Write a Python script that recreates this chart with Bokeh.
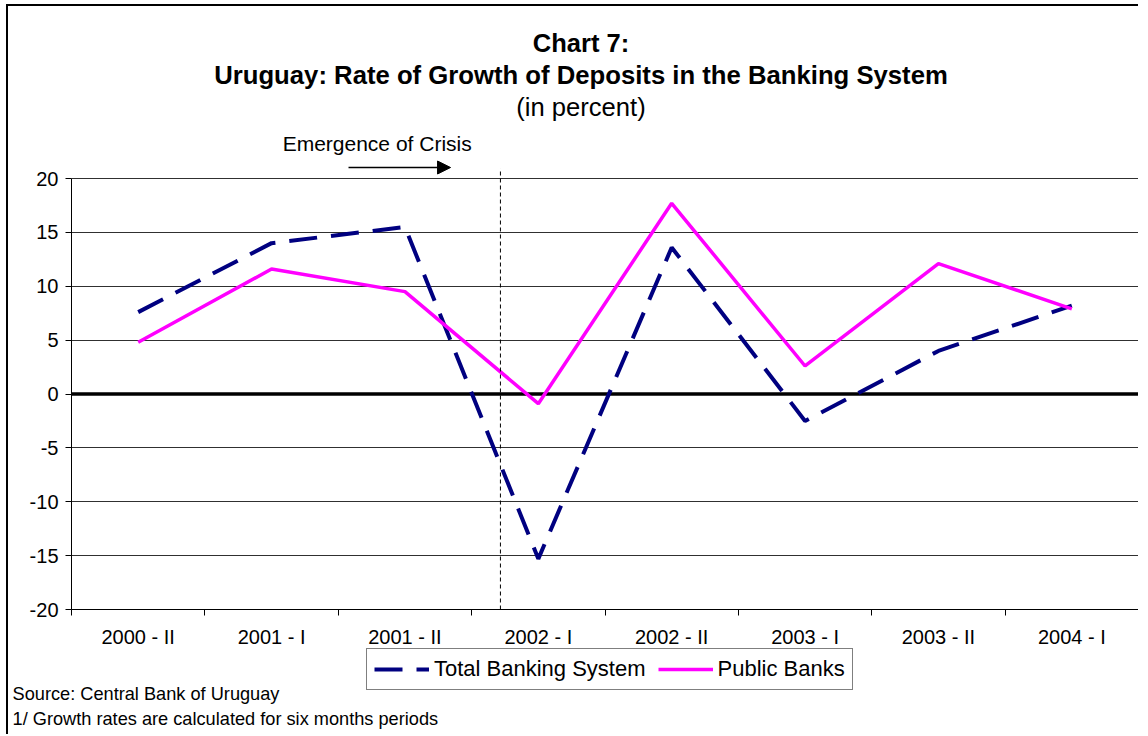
from bokeh.plotting import figure
from bokeh.models import (Range1d, FixedTicker, Label, Arrow, NormalHead,
                          Legend, LegendItem, ColumnDataSource, LinearAxis, Grid)
from bokeh.embed import file_html
from bokeh.resources import INLINE

# ---- data ----
categories = ["2000 - II", "2001 - I", "2001 - II", "2002 - I",
              "2002 - II", "2003 - I", "2003 - II", "2004 - I"]
total_banking = [7.6, 14.0, 15.5, -15.3, 13.6, -2.5, 4.0, 8.2]
public_banks = [4.8, 11.6, 9.5, -0.9, 17.7, 2.6, 12.1, 7.9]
y_ticks = [-20, -15, -10, -5, 0, 5, 10, 15, 20]

FONT = "Liberation Sans"
N = len(categories)
xc = [i + 0.5 for i in range(N)]
src = ColumnDataSource(dict(x=xc, total=total_banking, public=public_banks))

# layout: the frame fills the canvas, axes are pinned inside it
W, H = 1132, 730
XPX = 1067 / N          # px per category
YPX = 431 / 40.0        # px per percent
x0 = -63 / XPX
y1 = 20 + 172 / YPX
p = figure(width=W, height=H, output_backend="svg", toolbar_location=None,
           x_range=Range1d(x0, x0 + W / XPX), y_range=Range1d(y1 - H / YPX, y1),
           x_axis_location=None, y_axis_location=None, min_border=0)
p.outline_line_color = None
p.background_fill_color = "white"
p.border_fill_color = "white"
p.styles = {"margin-left": "6px", "margin-top": "4px",
            "border-top": "2px solid black", "border-left": "2px solid black"}
for g in p.grid:
    g.visible = False

# grid lines over the plot area only
grid = Grid(dimension=1, ticker=FixedTicker(ticks=y_ticks),
            grid_line_color="#303030", grid_line_width=1)
try:
    grid.cross_bounds = (0, N)
    p.add_layout(grid)
except Exception:
    p.segment(x0=[0] * len(y_ticks), y0=y_ticks, x1=[N] * len(y_ticks), y1=y_ticks,
              line_color="#303030", line_width=1)

# zero line
p.segment(x0=[0], y0=[0], x1=[N], y1=[0], line_color="black", line_width=3.5)

# axes
xa = LinearAxis(fixed_location=-20, bounds=(0, N))
xa.ticker = FixedTicker(ticks=xc, minor_ticks=list(range(N + 1)))
xa.major_label_overrides = {x: c for x, c in zip(xc, categories)}
xa.major_tick_out = 0
xa.major_tick_in = 0
xa.minor_tick_out = 6
xa.minor_tick_in = 0
xa.minor_tick_line_color = "black"
xa.axis_line_color = "black"
xa.major_label_text_font = FONT
xa.major_label_text_font_size = "20px"
xa.major_label_text_color = "black"
xa.major_label_standoff = 10
p.add_layout(xa, "below")

ya = LinearAxis(fixed_location=0, bounds=(-20, 20))
ya.ticker = FixedTicker(ticks=y_ticks)
ya.major_label_overrides = {t: str(t) for t in y_ticks}
ya.major_tick_out = 6
ya.major_tick_in = 0
ya.minor_tick_line_color = None
ya.axis_line_color = "black"
ya.major_tick_line_color = "black"
ya.major_label_text_font = FONT
ya.major_label_text_font_size = "20px"
ya.major_label_text_color = "black"
ya.major_label_standoff = 7
p.add_layout(ya, "left")

# series
r_total = p.line("x", "total", source=src, line_color="#000080", line_width=4,
                 line_dash="28 14")
r_public = p.line("x", "public", source=src, line_color="#FF00FF", line_width=3.5)

# crisis marker
p.segment(x0=[3.216], y0=[-20], x1=[3.216], y1=[20.93], line_color="black",
          line_width=1, line_dash="4 3")
p.add_layout(Arrow(x_start=2.077, y_start=21.02, x_end=2.842, y_end=21.02,
                   line_color="black", line_width=1.5,
                   end=NormalHead(size=13, fill_color="black", line_color="black")))
p.add_layout(Label(x=2.292, y=23.25, text="Emergence of Crisis",
                   text_align="center", text_baseline="middle", text_color="black",
                   text_font=FONT, text_font_size="21px"))

# titles
tx = 3.82
p.add_layout(Label(x=tx, y=32.62, text="Chart 7:", text_align="center",
                   text_baseline="middle", text_font=FONT, text_color="black",
                   text_font_size="25.5px", text_font_style="bold"))
p.add_layout(Label(x=tx, y=29.65,
                   text="Uruguay: Rate of Growth of Deposits in the Banking System",
                   text_align="center", text_baseline="middle", text_font=FONT,
                   text_color="black", text_font_size="25.7px",
                   text_font_style="bold"))
p.add_layout(Label(x=tx, y=26.68, text="(in percent)", text_align="center",
                   text_baseline="middle", text_font=FONT, text_color="black",
                   text_font_size="25.6px"))

# notes
p.add_layout(Label(x=-0.442, y=-27.8, text="Source: Central Bank of Uruguay",
                   text_align="left", text_baseline="middle", text_font=FONT,
                   text_color="black", text_font_size="18.2px"))
p.add_layout(Label(x=-0.442, y=-30.12,
                   text="1/ Growth rates are calculated for six months periods",
                   text_align="left", text_baseline="middle", text_font=FONT,
                   text_color="black", text_font_size="18.2px"))

legend = Legend(items=[LegendItem(label="Total Banking System", renderers=[r_total]),
                       LegendItem(label="Public Banks", renderers=[r_public])],
                orientation="horizontal", location=(358, 46),
                label_text_font=FONT, label_text_font_size="22px",
                label_text_color="black",
                glyph_width=55, glyph_height=20, label_standoff=5, spacing=12,
                padding=7, margin=0, border_line_color="black", border_line_width=1,
                background_fill_alpha=1)
p.add_layout(legend, "center")

open("out.html", "w").write(file_html(p, INLINE))
